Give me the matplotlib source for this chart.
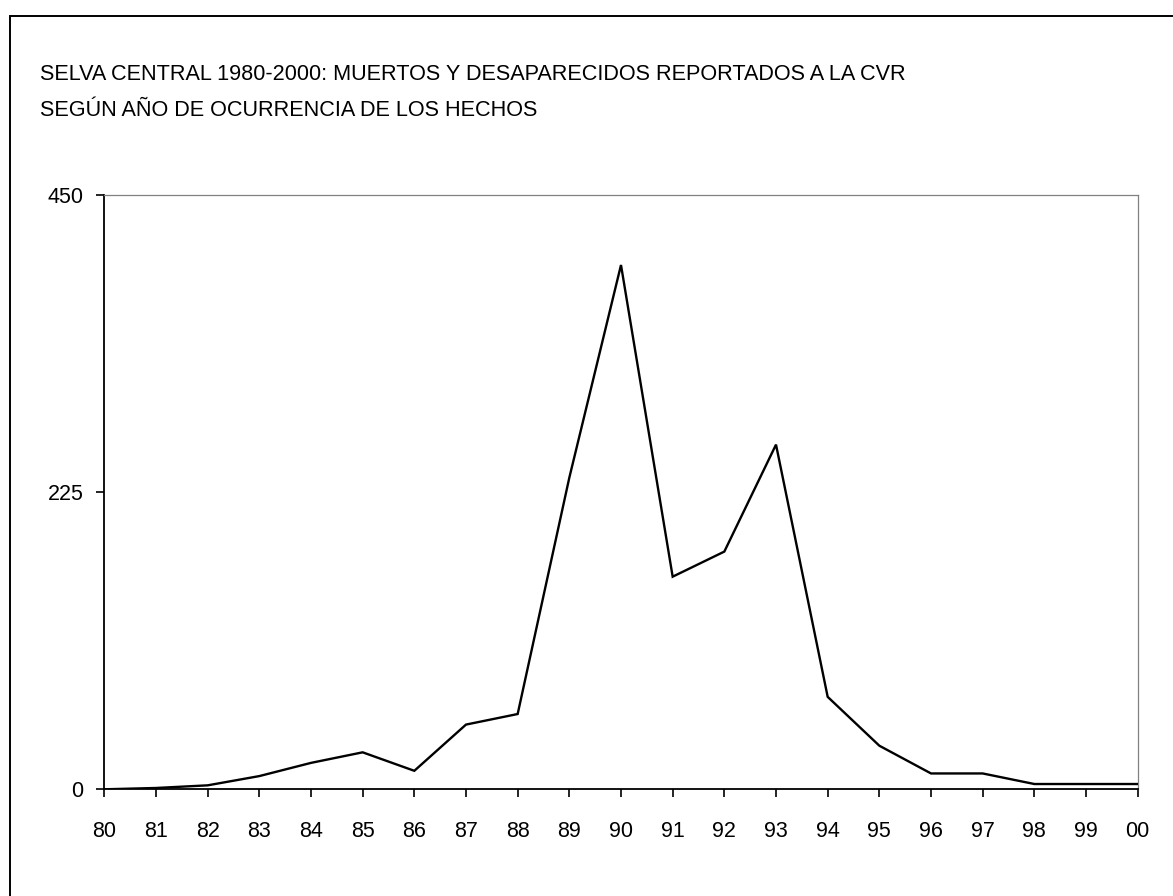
import matplotlib
matplotlib.use("Agg")
import matplotlib.pyplot as plt
from matplotlib.patches import Rectangle

# muertos y desaparecidos por año
YEARS = ["80", "81", "82", "83", "84", "85", "86", "87", "88", "89", "90",
         "91", "92", "93", "94", "95", "96", "97", "98", "99", "00"]
VICTIMS = [0, 1, 3, 10, 20, 28, 14, 49, 57, 236, 397,
           161, 180, 261, 70, 33, 12, 12, 4, 4, 4]
YTICKS = [0, 225, 450]

TITLE_1 = "SELVA CENTRAL 1980-2000: MUERTOS Y DESAPARECIDOS REPORTADOS A LA CVR"
TITLE_2 = "SEGÚN AÑO DE OCURRENCIA DE LOS HECHOS"

plt.rcParams["font.family"] = ["Liberation Sans Narrow", "Liberation Sans",
                               "DejaVu Sans"]

W, H = 1173, 896
fig = plt.figure(figsize=(W / 100, H / 100), dpi=100, facecolor="white")

# marco exterior (solo se ven arriba e izquierda)
fig.patches.append(Rectangle((10 / W, -0.05), 1.2, 1 - 16 / H + 0.05,
                             transform=fig.transFigure, fill=False,
                             edgecolor="black", lw=1.4))

ax = fig.add_axes([104.3 / W, 1 - 789.3 / H, (1137.7 - 104.3) / W,
                   (789.3 - 195) / H])

xs = list(range(len(YEARS)))
ax.plot(xs, VICTIMS, color="black", lw=1.7, solid_joinstyle="miter", zorder=3)

ax.set_xlim(0, len(YEARS) - 1)
ax.set_ylim(0, 450)
ax.set_xticks(xs)
ax.set_xticklabels(YEARS)
ax.set_yticks(YTICKS)
ax.set_yticklabels([str(v) for v in YTICKS])

for side in ("left", "bottom"):
    ax.spines[side].set_color("black")
    ax.spines[side].set_linewidth(1.3)
for side in ("top", "right"):
    ax.spines[side].set_color("#808080")
    ax.spines[side].set_linewidth(0.9)

ax.tick_params(axis="x", direction="out", length=6, width=1.2,
               pad=17, labelsize=15.5, colors="black")
ax.tick_params(axis="y", direction="out", length=6, width=1.2,
               pad=9, labelsize=15.5, colors="black")

fig.text(40 / W, 1 - 74 / H, TITLE_1, ha="left", va="center", fontsize=15.6)
fig.text(40 / W, 1 - 111 / H, TITLE_2, ha="left", va="center", fontsize=15.6)

plt.savefig("out.png", dpi=100, facecolor="white")
plt.close()
